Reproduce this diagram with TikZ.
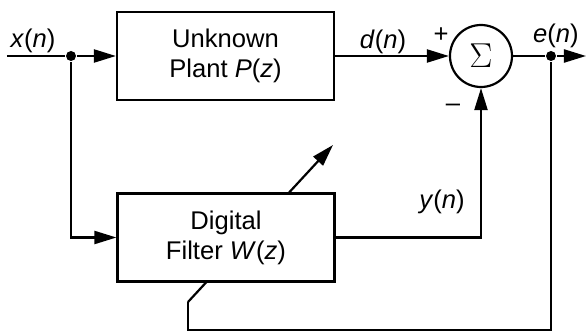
\documentclass[tikz,border=0pt]{standalone}
\usepackage{fontspec}
\setmainfont{Liberation Sans}
\usetikzlibrary{arrows.meta}

\begin{document}
\begin{tikzpicture}[x=0.5pt,y=-0.5pt,line width=1.1pt,
    >={Triangle[length=11pt,width=6.5pt]},
    every node/.style={font=\fontsize{12.8}{15}\selectfont},
    block/.style={draw,fill=white,minimum width=108.5pt,minimum height=44pt,align=center,inner sep=0pt},
    dot/.style={circle,fill,inner sep=0pt,minimum size=5pt}]
  \useasboundingbox (0,0) rectangle (586,332);
  \coordinate (in) at (7,56);
  \coordinate (out) at (586,56);
  \coordinate (adapt) at (333,145);
  \coordinate (bend) at (188,302);
  \coordinate (low) at (188,330);
  \draw[->] (bend) -- (adapt);
  \node[block] (plant) at (225.5,56) {Unknown\\Plant \textit{P}(\textit{z})};
  \node[block] (filter) at (226,237.5) {Digital\\Filter \textit{W}(\textit{z})};
  \node[draw,circle,minimum size=31pt,inner sep=0pt,font=\fontsize{17}{17}\selectfont] (sum) at (481,56) {$\Sigma$};
  \node[dot] (j1) at (71,56) {};
  \node[dot] (j2) at (551,56) {};
  \draw (in) -- (j1);
  \draw[->] (j1) -- (plant);
  \draw[->] (plant) -- (sum);
  \draw (sum) -- (j2);
  \draw[->] (j2) -- (out);
  \draw[->] (j1) |- (filter);
  \draw[->] (filter.east) -| (sum.south);
  \draw (j2) |- (low) -- (bend);
  \node (xlab) at (33,41) {\textit{x}(\textit{n})};
  \node (dlab) at (383,42) {\textit{d}(\textit{n})};
  \node (elab) at (556,36) {\textit{e}(\textit{n})};
  \node (ylab) at (442,202) {\textit{y}(\textit{n})};
  \node (plus) at (441,35) {+};
  \node (minus) at (453,108) {--};
\end{tikzpicture}
\end{document}
